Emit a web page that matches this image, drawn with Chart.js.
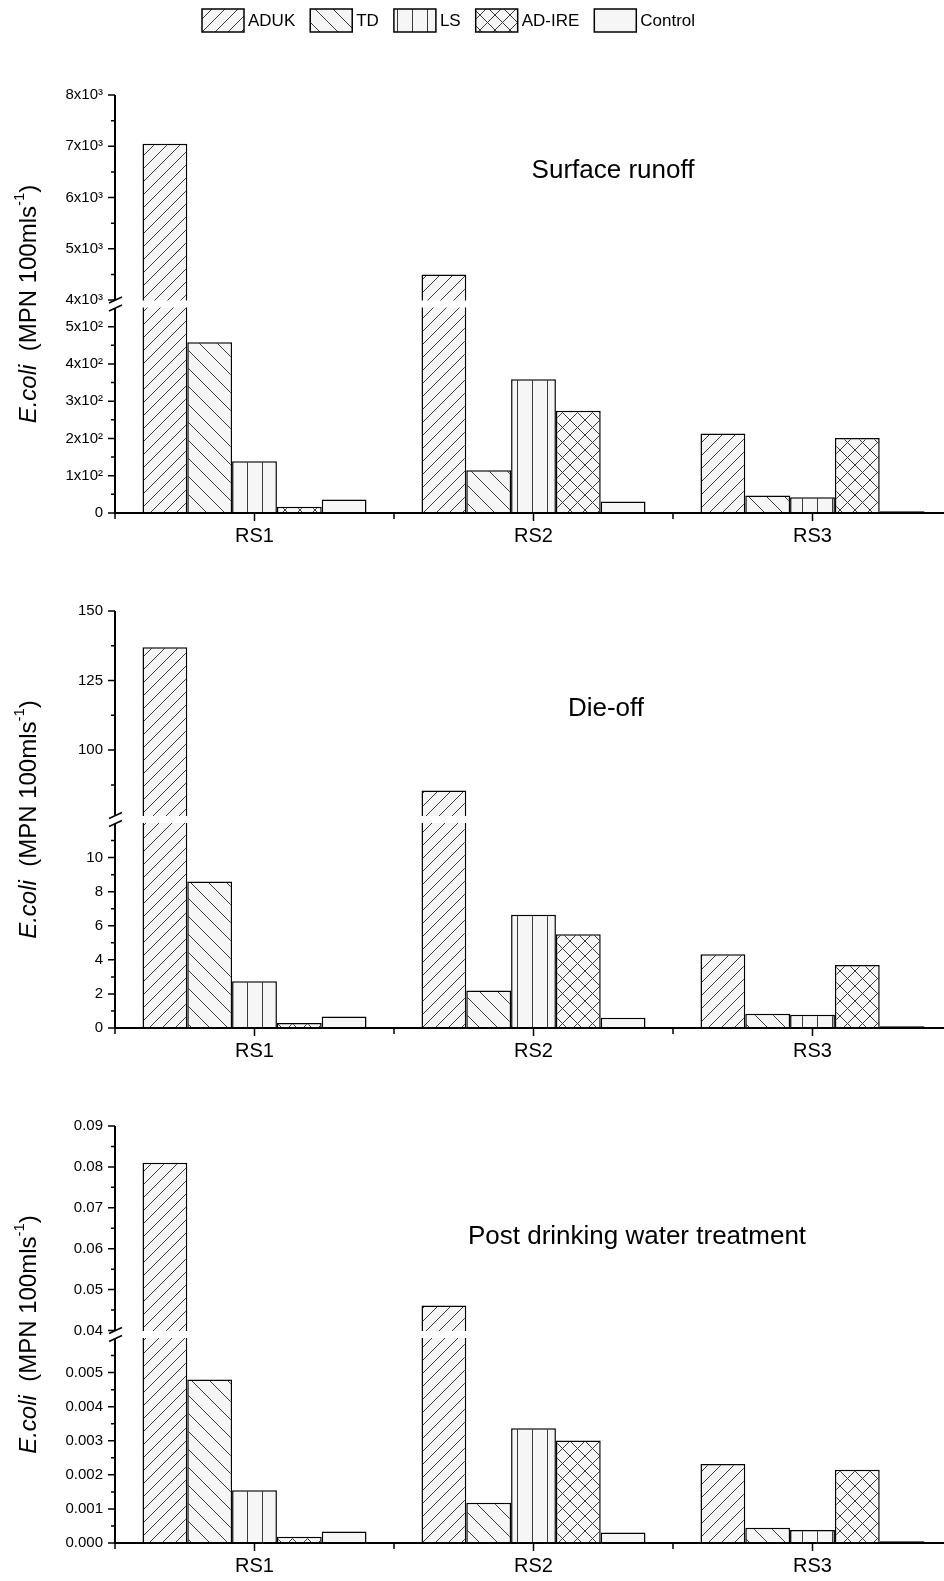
<!DOCTYPE html>
<html>
<head>
<meta charset="utf-8">
<script src="https://cdn.jsdelivr.net/npm/chart.js@4.4.1/dist/chart.umd.min.js"></script>
<style>
  html, body { margin: 0; padding: 0; background: #fff; }
  body { width: 944px; height: 1581px; overflow: hidden; position: relative; }
  canvas { position: absolute; left: 0; }
</style>
</head>
<body>
<canvas id="runoff" width="952" height="558" style="top:0px"></canvas>
<canvas id="dieoff" width="952" height="507" style="top:566px"></canvas>
<canvas id="post" width="952" height="507" style="top:1081px"></canvas>
<script>
// ---- data ----
const categories = ['RS1', 'RS2', 'RS3'];
const seriesNames = ['ADUK', 'TD', 'LS', 'AD-IRE', 'Control'];

// Surface runoff
const runoffADUK    = [7050, 4500, 213];
const runoffTD      = [458, 115, 47];
const runoffLS      = [139, 359, 42];
const runoffADIRE   = [17, 274, 201];
const runoffControl = [36, 31, 5];

// Die-off
const dieoffADUK    = [137, 85.5, 4.33];
const dieoffTD      = [8.6, 2.2, 0.83];
const dieoffLS      = [2.75, 6.65, 0.78];
const dieoffADIRE   = [0.3, 5.5, 3.7];
const dieoffControl = [0.67, 0.6, 0.1];

// Post drinking water treatment
const postADUK    = [0.081, 0.0461, 0.00232];
const postTD      = [0.0048, 0.00118, 0.00045];
const postLS      = [0.00155, 0.00337, 0.00038];
const postADIRE   = [0.00018, 0.00301, 0.00215];
const postControl = [0.00034, 0.00031, 0.00005];

// y ticks (lower segment, then upper segment); '' = minor tick
const runoffTickValues = [0, 50, 100, 150, 200, 250, 300, 350, 400, 450, 500,
  4000, 4500, 5000, 5500, 6000, 6500, 7000, 7500, 8000];
const runoffTickLabels = ['0', '', '1x10²', '', '2x10²', '', '3x10²', '', '4x10²', '', '5x10²',
  '4x10³', '', '5x10³', '', '6x10³', '', '7x10³', '', '8x10³'];
const runoffBreak = [550, 4000];
const runoffMax = 8000;

const dieoffTickValues = [0, 1, 2, 3, 4, 5, 6, 7, 8, 9, 10, 11, 87.5, 100, 112.5, 125, 137.5, 150];
const dieoffTickLabels = ['0', '', '2', '', '4', '', '6', '', '8', '', '10', '', '', '100', '', '125', '', '150'];
const dieoffBreak = [12, 76.5];
const dieoffMax = 150;

const postTickValues = [0, 0.0005, 0.001, 0.0015, 0.002, 0.0025, 0.003, 0.0035, 0.004, 0.0045, 0.005, 0.0055,
  0.04, 0.045, 0.05, 0.055, 0.06, 0.065, 0.07, 0.075, 0.08, 0.085, 0.09];
const postTickLabels = ['0.000', '', '0.001', '', '0.002', '', '0.003', '', '0.004', '', '0.005', '',
  '0.04', '', '0.05', '', '0.06', '', '0.07', '', '0.08', '', '0.09'];
const postBreak = [0.006, 0.04];
const postMax = 0.09;

// ---- a linear scale with one break ----
class BrokenScale extends Chart.LinearScale {
  static id = 'broken';
  buildTicks() {
    return this.options.tickValues.map(v => ({ value: v }));
  }
  getPixelForValue(v) {
    const o = this.options;
    const gap = o.gapPx;
    const h = this.bottom - this.top;
    const lowH = (h - gap) / 2;
    const upH = h - gap - lowH;
    if (v <= o.lowMax) return this.bottom - v / o.lowMax * lowH;
    if (v >= o.upMin) return this.top + upH - (v - o.upMin) / (this.max - o.upMin) * upH;
    return this.bottom - lowH - (v - o.lowMax) / (o.upMin - o.lowMax) * gap;
  }
}
Chart.register(BrokenScale);

function hatch(kind) {
  const s = { aduk: 13, td: 18, ls: 15, adire: 15, control: 8 }[kind];
  const c = document.createElement('canvas');
  c.width = s; c.height = s;
  const g = c.getContext('2d');
  g.fillStyle = '#f6f6f6';
  g.fillRect(0, 0, s, s);
  g.strokeStyle = '#3a3a3a';
  g.lineWidth = 1;
  g.beginPath();
  if (kind === 'aduk' || kind === 'adire') {
    g.moveTo(-1, s + 1); g.lineTo(s + 1, -1);
    g.moveTo(-1, 1); g.lineTo(1, -1);
    g.moveTo(s - 1, s + 1); g.lineTo(s + 1, s - 1);
  }
  if (kind === 'td' || kind === 'adire') {
    g.moveTo(-1, -1); g.lineTo(s + 1, s + 1);
    g.moveTo(s - 1, -1); g.lineTo(s + 1, 1);
    g.moveTo(-1, s - 1); g.lineTo(1, s + 1);
  }
  if (kind === 'ls') {
    g.moveTo(s / 2, 0); g.lineTo(s / 2, s);
  }
  g.stroke();
  return g.createPattern(c, 'repeat');
}
const fills = [hatch('aduk'), hatch('td'), hatch('ls'), hatch('adire'), hatch('control')];

// narrow font for category labels if there is one
const probe = document.createElement('canvas').getContext('2d');
probe.font = '40px monospace';
const w0 = probe.measureText('RS2 Control').width;
probe.font = '40px "Liberation Sans Narrow", monospace';
const hasNarrow = probe.measureText('RS2 Control').width !== w0;
const xFont = hasNarrow ? { family: '"Liberation Sans Narrow"', size: 23 } : { family: '"Liberation Sans"', size: 20 };

const axesPlugin = {
  id: 'brokenAxes',
  afterDatasetsDraw(chart) {
    const { ctx, chartArea: a, scales: { x, y } } = chart;
    const yUp = y.getPixelForValue(y.options.upMin);
    const yLow = y.getPixelForValue(y.options.lowMax);
    ctx.save();
    ctx.fillStyle = '#fff';
    ctx.fillRect(a.left - 9, yUp + 0.5, a.right - a.left + 9, yLow - yUp - 1);
    ctx.strokeStyle = '#000';
    ctx.lineWidth = 2;
    ctx.beginPath();
    ctx.moveTo(a.left, a.top); ctx.lineTo(a.left, yUp);
    ctx.moveTo(a.left, yLow); ctx.lineTo(a.left, a.bottom + 1);
    ctx.moveTo(a.left - 1, a.bottom); ctx.lineTo(a.right, a.bottom);
    ctx.stroke();
    ctx.lineWidth = 1.5;
    ctx.beginPath();
    y.ticks.forEach(t => {
      const py = y.getPixelForValue(t.value);
      const len = t.label ? 7 : 4;
      ctx.moveTo(a.left - len, py); ctx.lineTo(a.left, py);
    });
    categories.forEach((c, i) => {
      const px = x.getPixelForValue(i);
      ctx.moveTo(px, a.bottom); ctx.lineTo(px, a.bottom + 8);
      const pb = x.getPixelForValue(i - 0.5);
      ctx.moveTo(pb, a.bottom); ctx.lineTo(pb, a.bottom + 6);
    });
    ctx.stroke();
    ctx.beginPath();
    [yUp, yLow].forEach(py => {
      ctx.moveTo(a.left - 6, py + 3); ctx.lineTo(a.left + 7, py - 3);
    });
    ctx.stroke();
    ctx.restore();
  },
  afterDraw(chart, args, opts) {
    const { ctx, chartArea: a } = chart;
    ctx.save();
    ctx.fillStyle = '#000';
    ctx.textBaseline = 'middle';
    // panel title
    ctx.font = '26px "Liberation Sans"';
    ctx.textAlign = 'center';
    ctx.fillText(opts.title, opts.tx, opts.ty);
    // y axis title
    ctx.translate(29, (a.top + a.bottom) / 2);
    ctx.rotate(-Math.PI / 2);
    ctx.textAlign = 'left';
    const parts = [
      ['italic 24px "Liberation Sans"', 'E.coli', 0],
      ['24px "Liberation Sans"', '  (MPN 100mls', 0],
      ['15px "Liberation Sans"', '-1', -9],
      ['24px "Liberation Sans"', ')', 0]
    ];
    let total = 0;
    parts.forEach(p => { ctx.font = p[0]; total += ctx.measureText(p[1]).width; });
    let px = -total / 2;
    parts.forEach(p => { ctx.font = p[0]; ctx.fillText(p[1], px, p[2]); px += ctx.measureText(p[1]).width; });
    ctx.restore();

    if (opts.legend) {
      ctx.save();
      ctx.font = '17px "Liberation Sans"';
      ctx.textBaseline = 'middle';
      ctx.textAlign = 'left';
      let lx = 202;
      chart.data.datasets.forEach(ds => {
        ctx.fillStyle = ds.backgroundColor;
        ctx.fillRect(lx, 9, 42, 23);
        ctx.strokeStyle = '#000';
        ctx.lineWidth = 1.5;
        ctx.strokeRect(lx, 9, 42, 23);
        ctx.fillStyle = '#000';
        ctx.fillText(ds.label, lx + 46, 21);
        lx += 46 + ctx.measureText(ds.label).width + 15;
      });
      ctx.restore();
    }
  }
};

function makePanel(id, series, tickValues, tickLabels, brk, max, padTop, text) {
  return new Chart(document.getElementById(id), {
    type: 'bar',
    data: {
      labels: categories,
      datasets: series.map((vals, i) => ({
        label: seriesNames[i],
        data: vals,
        backgroundColor: fills[i],
        borderColor: '#000',
        borderWidth: 1.5,
        categoryPercentage: 0.803,
        barPercentage: 1
      }))
    },
    options: {
      responsive: false,
      animation: false,
      events: [],
      layout: { padding: { top: padTop, left: 0, right: 0, bottom: 0 } },
      scales: {
        x: {
          type: 'category',
          offset: true,
          grid: { display: false, drawTicks: false },
          border: { display: false },
          ticks: { font: xFont, color: '#000', padding: 11, maxRotation: 0, autoSkip: false },
          afterFit: s => { s.height = 45; }
        },
        y: {
          type: 'broken',
          min: 0,
          max: max,
          lowMax: brk[0],
          upMin: brk[1],
          gapPx: 8,
          tickValues: tickValues,
          grid: { display: false, drawTicks: false },
          border: { display: false },
          ticks: {
            font: { family: '"Liberation Sans"', size: 15 },
            color: '#000',
            padding: 12,
            autoSkip: false,
            callback: (v, i) => tickLabels[i]
          },
          afterFit: s => { s.width = 115; }
        }
      },
      plugins: {
        legend: { display: false },
        tooltip: { enabled: false },
        brokenAxes: text
      }
    },
    plugins: [axesPlugin]
  });
}

makePanel('runoff', [runoffADUK, runoffTD, runoffLS, runoffADIRE, runoffControl],
  runoffTickValues, runoffTickLabels, runoffBreak, runoffMax, 95,
  { title: 'Surface runoff', tx: 613, ty: 171, legend: true });
makePanel('dieoff', [dieoffADUK, dieoffTD, dieoffLS, dieoffADIRE, dieoffControl],
  dieoffTickValues, dieoffTickLabels, dieoffBreak, dieoffMax, 45,
  { title: 'Die-off', tx: 606, ty: 143, legend: false });
makePanel('post', [postADUK, postTD, postLS, postADIRE, postControl],
  postTickValues, postTickLabels, postBreak, postMax, 45,
  { title: 'Post drinking water treatment', tx: 637, ty: 156, legend: false });
</script>
</body>
</html>
